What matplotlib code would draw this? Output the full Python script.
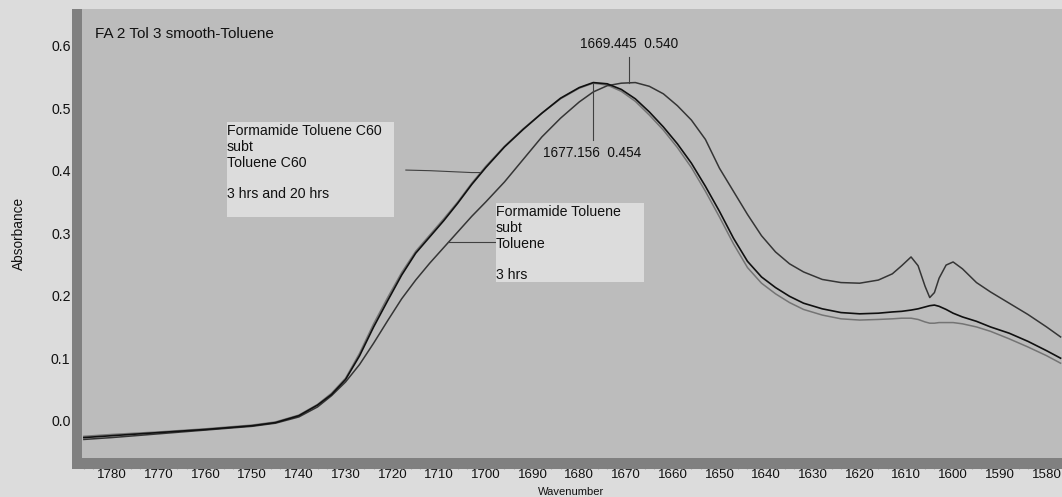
import numpy as np
import matplotlib
matplotlib.use("Agg")
from matplotlib import pyplot as plt
from matplotlib.patches import Rectangle

plt.rcParams['font.family'] = ['Liberation Sans', 'DejaVu Sans']

# Data (wavenumber in cm-1, absorbance)
wavenumber = [1786, 1780, 1770, 1760, 1750, 1745, 1740, 1736, 1733, 1730,
              1727, 1724, 1721, 1718, 1715, 1712, 1709, 1706, 1703, 1700,
              1696, 1692, 1688, 1684, 1680, 1677, 1674, 1671, 1668, 1665,
              1662, 1659, 1656, 1653, 1650, 1647, 1644, 1641, 1638, 1635,
              1632, 1628, 1624, 1620, 1616, 1613, 1611, 1609, 1607.5, 1606,
              1605, 1604, 1603, 1601.5, 1600, 1598, 1595, 1592, 1588, 1584,
              1580, 1577]

# "Formamide Toluene subt Toluene, 3 hrs" (shifted peak, C60-free)
abs_3hrs = [-0.030, -0.027, -0.021, -0.015, -0.009, -0.004, 0.006, 0.022, 0.040, 0.062,
            0.090, 0.124, 0.160, 0.195, 0.225, 0.252, 0.277, 0.302, 0.327, 0.350,
            0.382, 0.418, 0.454, 0.484, 0.510, 0.526, 0.536, 0.540, 0.541, 0.535,
            0.523, 0.504, 0.481, 0.450, 0.404, 0.367, 0.330, 0.296, 0.270, 0.251,
            0.238, 0.226, 0.221, 0.220, 0.225, 0.235, 0.248, 0.262, 0.248, 0.215,
            0.197, 0.205, 0.228, 0.249, 0.254, 0.243, 0.221, 0.206, 0.188, 0.170,
            0.150, 0.134]

# "Formamide Toluene C60 subt Toluene C60" - dark trace
abs_c60_dark = [-0.027, -0.024, -0.019, -0.014, -0.008, -0.003, 0.008, 0.025, 0.042, 0.066,
                0.104, 0.150, 0.192, 0.233, 0.268, 0.294, 0.320, 0.348, 0.378, 0.405,
                0.438, 0.466, 0.492, 0.516, 0.533, 0.541, 0.539, 0.530, 0.515, 0.494,
                0.470, 0.443, 0.412, 0.375, 0.335, 0.292, 0.255, 0.230, 0.213, 0.199,
                0.188, 0.179, 0.173, 0.171, 0.172, 0.174, 0.175, 0.177, 0.179, 0.182,
                0.184, 0.185, 0.183, 0.178, 0.172, 0.166, 0.159, 0.150, 0.140, 0.127,
                0.112, 0.100]

# "Formamide Toluene C60 subt Toluene C60" - grey trace
abs_c60_grey = [-0.025, -0.022, -0.018, -0.013, -0.007, -0.002, 0.009, 0.026, 0.044, 0.068,
                0.108, 0.155, 0.197, 0.237, 0.271, 0.297, 0.323, 0.350, 0.380, 0.407,
                0.439, 0.467, 0.492, 0.515, 0.532, 0.540, 0.537, 0.527, 0.511, 0.489,
                0.465, 0.437, 0.405, 0.367, 0.326, 0.283, 0.245, 0.220, 0.203, 0.189,
                0.178, 0.169, 0.163, 0.161, 0.162, 0.163, 0.164, 0.164, 0.162, 0.158,
                0.156, 0.156, 0.157, 0.157, 0.157, 0.155, 0.150, 0.143, 0.131, 0.118,
                0.104, 0.092]

yticks = [0.0, 0.1, 0.2, 0.3, 0.4, 0.5, 0.6]
title = "FA 2 Tol 3 smooth-Toluene"
box1_text = "Formamide Toluene C60\nsubt\nToluene C60\n\n3 hrs and 20 hrs"
box2_text = "Formamide Toluene\nsubt\nToluene\n\n3 hrs"
peak_marks = [(1669.445, 0.540), (1677.156, 0.454)]

#Layout helpers (pixel boxes of the original screenshot)
W, H = 1062, 497
def rect(x0, y0, x1, y1):
    return [x0 / W, 1 - y1 / H, (x1 - x0) / W, (y1 - y0) / H]

xlim = (1786.4, 1576.7)
ylim = (-0.0592, 0.6587)

fig = plt.figure(figsize=(W / 100, H / 100), dpi=100, facecolor='#dcdcdc')

#dark frame strips
fig.add_artist(Rectangle((72 / W, 1 - 469 / H), 10 / W, 460 / H,
                         transform=fig.transFigure, color='#808080', lw=0))
fig.add_artist(Rectangle((72 / W, 1 - 469 / H), 990 / W, 11.3 / H,
                         transform=fig.transFigure, color='#808080', lw=0))

ax = fig.add_axes(rect(82, 9, 1062, 457.7), facecolor='#bcbcbc')
ax.set_xlim(*xlim)
ax.set_ylim(*ylim)
ax.set_xticks([])
ax.set_yticks([])
for s in ax.spines.values():
    s.set_visible(False)

ax.plot(wavenumber, abs_c60_grey, color='#747474', lw=1.1)
ax.plot(wavenumber, abs_3hrs, color='#353535', lw=1.1)
ax.plot(wavenumber, abs_c60_dark, color='#101010', lw=1.2)

ax.text(0.013, 0.945, title, transform=ax.transAxes, fontsize=11,
        ha='left', va='center', color='#111111')

# boxed labels
def box(x0, y0, x1, y1, txt):
    fig.add_artist(Rectangle((x0 / W, 1 - y1 / H), (x1 - x0) / W, (y1 - y0) / H,
                             transform=fig.transFigure, color='#dcdcdc', lw=0))
    fig.text(x0 / W, 1 - (y0 + 2.5) / H, txt, ha='left', va='top', fontsize=10.2,
             linespacing=1.16, color='#111111')

box(226.7, 121.7, 394, 217.3, box1_text)
box(496, 202.7, 644, 281.7, box2_text)

# leader lines from boxes to traces
ax.plot([1717.1, 1711.9, 1703.0, 1701.2], [0.401, 0.400, 0.397, 0.397],
        color='#404040', lw=0.8)
ax.plot([1697.2, 1708.0], [0.286, 0.286], color='#404040', lw=0.8)

# peak markers
(w1, v1), (w2, v2) = peak_marks
ax.plot([w1, w1], [0.541, 0.582], color='#404040', lw=0.8)
ax.text(w1, 0.603, f"{w1:.3f}  {v1:.3f}", ha='center', va='center', fontsize=9.8,
        color='#111111')
ax.plot([w2, w2], [0.541, 0.449], color='#404040', lw=0.8)
ax.text(w2, 0.428, f"{w2:.3f}  {v2:.3f}", ha='center', va='center', fontsize=9.8,
        color='#111111')

#x ticks on bottom strip
axb = fig.add_axes(rect(82, 457.7, 1062, 469))
axb.patch.set_visible(False)
axb.set_xlim(*xlim)
axb.set_yticks([])
for s in axb.spines.values():
    s.set_visible(False)
axb.set_xticks(np.arange(1780, 1575, -10))
axb.set_xticks(np.arange(1786, 1576, -2), minor=True)
axb.tick_params(axis='x', which='major', direction='in', length=4.5, width=0.8,
                color='#a8a8a8', labelsize=9.6, pad=-0.3, labelcolor='#111111')
axb.tick_params(axis='x', which='minor', direction='in', length=2.5, width=0.8,
                color='#a8a8a8')

#y ticks on left strip
axl = fig.add_axes(rect(72, 9, 82, 457.7))
axl.patch.set_visible(False)
axl.set_ylim(*ylim)
axl.set_xticks([])
for s in axl.spines.values():
    s.set_visible(False)
axl.set_yticks(yticks)
axl.set_yticklabels([f"{v:.1f}" for v in yticks])
axl.tick_params(axis='y', direction='in', length=3.5, width=0.8, color='#a8a8a8',
                labelsize=10.2, pad=1, labelcolor='#111111')

fig.text(18.5 / W, 1 - 233 / H, "Absorbance", rotation=90, ha='center', va='center',
         fontsize=9.8, color='#111111')
fig.text(571 / W, 0.2 / H, "Wavenumber", ha='center', va='bottom',
         fontsize=8, color='#111111')

fig.savefig("out.png", dpi=100, facecolor=fig.get_facecolor())
